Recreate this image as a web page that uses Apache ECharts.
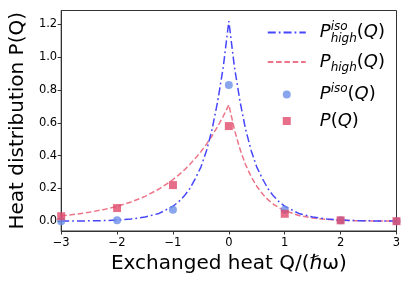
<!DOCTYPE html>
<html><head><meta charset="utf-8">
<script src="https://cdn.jsdelivr.net/npm/echarts@6/dist/echarts.min.js"></script>
<style>html,body{margin:0;padding:0;background:#fff}#c{width:408px;height:283px}</style>
</head><body><div id="c"></div>
<script>
// Curve sample points Q
var qGrid = [-3,-2.75,-2.5,-2.25,-2,-1.75,-1.5,-1.25,-1,-0.9,-0.8,-0.7,-0.6,-0.5,-0.4,-0.3,-0.2,-0.1,0,0.1,0.2,0.3,0.4,0.5,0.6,0.7,0.8,0.9,1,1.25,1.5,1.75,2,2.25,2.5,2.75,3];
// P_high^iso(Q) curve (dash-dot blue)
var pHighIso = [0.0005,0.001,0.0019,0.0035,0.0068,0.013,0.025,0.047,0.091,0.118,0.153,0.198,0.26,0.33,0.43,0.56,0.73,0.94,1.22,0.94,0.73,0.56,0.43,0.33,0.26,0.198,0.153,0.118,0.091,0.047,0.025,0.013,0.0068,0.0035,0.0019,0.001,0.0005];
// P_high(Q) curve (dashed red)
var pHigh = [0.032,0.042,0.054,0.070,0.090,0.117,0.151,0.196,0.253,0.281,0.311,0.345,0.383,0.424,0.47,0.521,0.578,0.64,0.71,0.558,0.438,0.344,0.271,0.213,0.167,0.131,0.103,0.081,0.064,0.035,0.019,0.0105,0.0057,0.0031,0.0017,0.0009,0.0005];
// Discrete points
var qPoints = [-3,-2,-1,0,1,2,3];
var pIso = [0.0,0.005,0.07,0.83,0.07,0.005,0.0];
var pQ = [0.03,0.08,0.22,0.58,0.045,0.005,0.0];
var yTicks = [0,0.2,0.4,0.6,0.8,1.0,1.2];

function zip(a,b){return a.map(function(v,i){return [v,b[i]];});}
var FF = 'DejaVu Sans';
var BLUE_LINE = '#4646fb', RED_LINE = '#ee7488', BLUE_DOT = '#6b8fe8', RED_SQ = '#e04a6c';
var chart = echarts.init(document.getElementById('c'));
var legendNames = {
  'iso_high': '{P|P}{sup|iso}{sub|high}{n|(}{P|Q}{n|)}',
  'high': '{P|P}{sub|high}{n|(}{P|Q}{n|)}',
  'iso': '{P|P}{sup2|iso}{n|(}{P|Q}{n|)}',
  'plain': '{P|P}{n|(}{P|Q}{n|)}'
};
chart.setOption({
  animation:false,
  grid:{left:57,right:11.5,top:10.5,bottom:52,show:true,borderColor:'#333',borderWidth:1,backgroundColor:'transparent'},
  xAxis:{type:'value',min:-3,max:3,interval:1,
    axisLine:{show:true,onZero:false,lineStyle:{color:'#333',width:1}},
    axisTick:{show:true,length:3.5,lineStyle:{color:'#333'}},
    splitLine:{show:false},
    axisLabel:{color:'#000',fontSize:11.5,fontFamily:FF,margin:6,formatter:function(v){return v<0?'\u2212'+Math.abs(v):String(v);}},
    name:'Exchanged heat Q/(\u210F\u03C9)',nameLocation:'middle',nameGap:19.5,
    nameTextStyle:{color:'#000',fontSize:20,fontFamily:FF,verticalAlign:'top'}},
  yAxis:{type:'value',min:-0.06,max:1.285,
    axisLine:{show:true,onZero:false,lineStyle:{color:'#333',width:1}},
    axisTick:{show:true,length:3.5,customValues:yTicks,lineStyle:{color:'#333'}},
    splitLine:{show:false},
    axisLabel:{color:'#000',fontSize:11.5,fontFamily:FF,margin:4,customValues:yTicks,formatter:function(v){return v.toFixed(1);}},
    name:'Heat distribution P(Q)',nameLocation:'middle',nameGap:28,
    nameTextStyle:{color:'#000',fontSize:20,fontFamily:FF}},
  legend:{orient:'vertical',right:18,top:15.5,itemWidth:38,itemHeight:8,itemGap:8.5,
    data:[
      {name:'iso_high',itemStyle:{opacity:0}},
      {name:'high',itemStyle:{opacity:0}},
      {name:'iso',icon:'circle'},
      {name:'plain',icon:'path://M0,0L8,0L8,8L0,8Z'}
    ],
    formatter:function(n){return legendNames[n];},
    textStyle:{color:'#000',padding:[0,0,0,9],
      rich:{
        P:{fontSize:18,fontStyle:'italic',fontFamily:FF,color:'#000',lineHeight:24},
        n:{fontSize:18,fontFamily:FF,color:'#000',lineHeight:24},
        sup:{fontSize:12,fontStyle:'italic',fontFamily:FF,color:'#000',verticalAlign:'top',width:0,lineHeight:12},
        sub:{fontSize:12,fontStyle:'italic',fontFamily:FF,color:'#000',verticalAlign:'bottom',lineHeight:12},
        sup2:{fontSize:12,fontStyle:'italic',fontFamily:FF,color:'#000',verticalAlign:'top',lineHeight:12}
      }}},
  series:[
    {name:'iso_high',type:'line',data:zip(qGrid,pHighIso),showSymbol:false,symbol:'none',
      lineStyle:{color:BLUE_LINE,width:1.5,type:[8,3,1.8,3]},itemStyle:{color:BLUE_LINE},z:3},
    {name:'high',type:'line',data:zip(qGrid,pHigh),showSymbol:false,symbol:'none',
      lineStyle:{color:RED_LINE,width:1.5,type:[5.6,2.7]},itemStyle:{color:RED_LINE},z:2},
    {name:'iso',type:'scatter',data:zip(qPoints,pIso),symbol:'circle',symbolSize:8,
      itemStyle:{color:BLUE_DOT},z:4},
    {name:'plain',type:'scatter',data:zip(qPoints,pQ),symbol:'rect',symbolSize:8,
      itemStyle:{color:RED_SQ},z:5}
  ]
});
</script></body></html>
